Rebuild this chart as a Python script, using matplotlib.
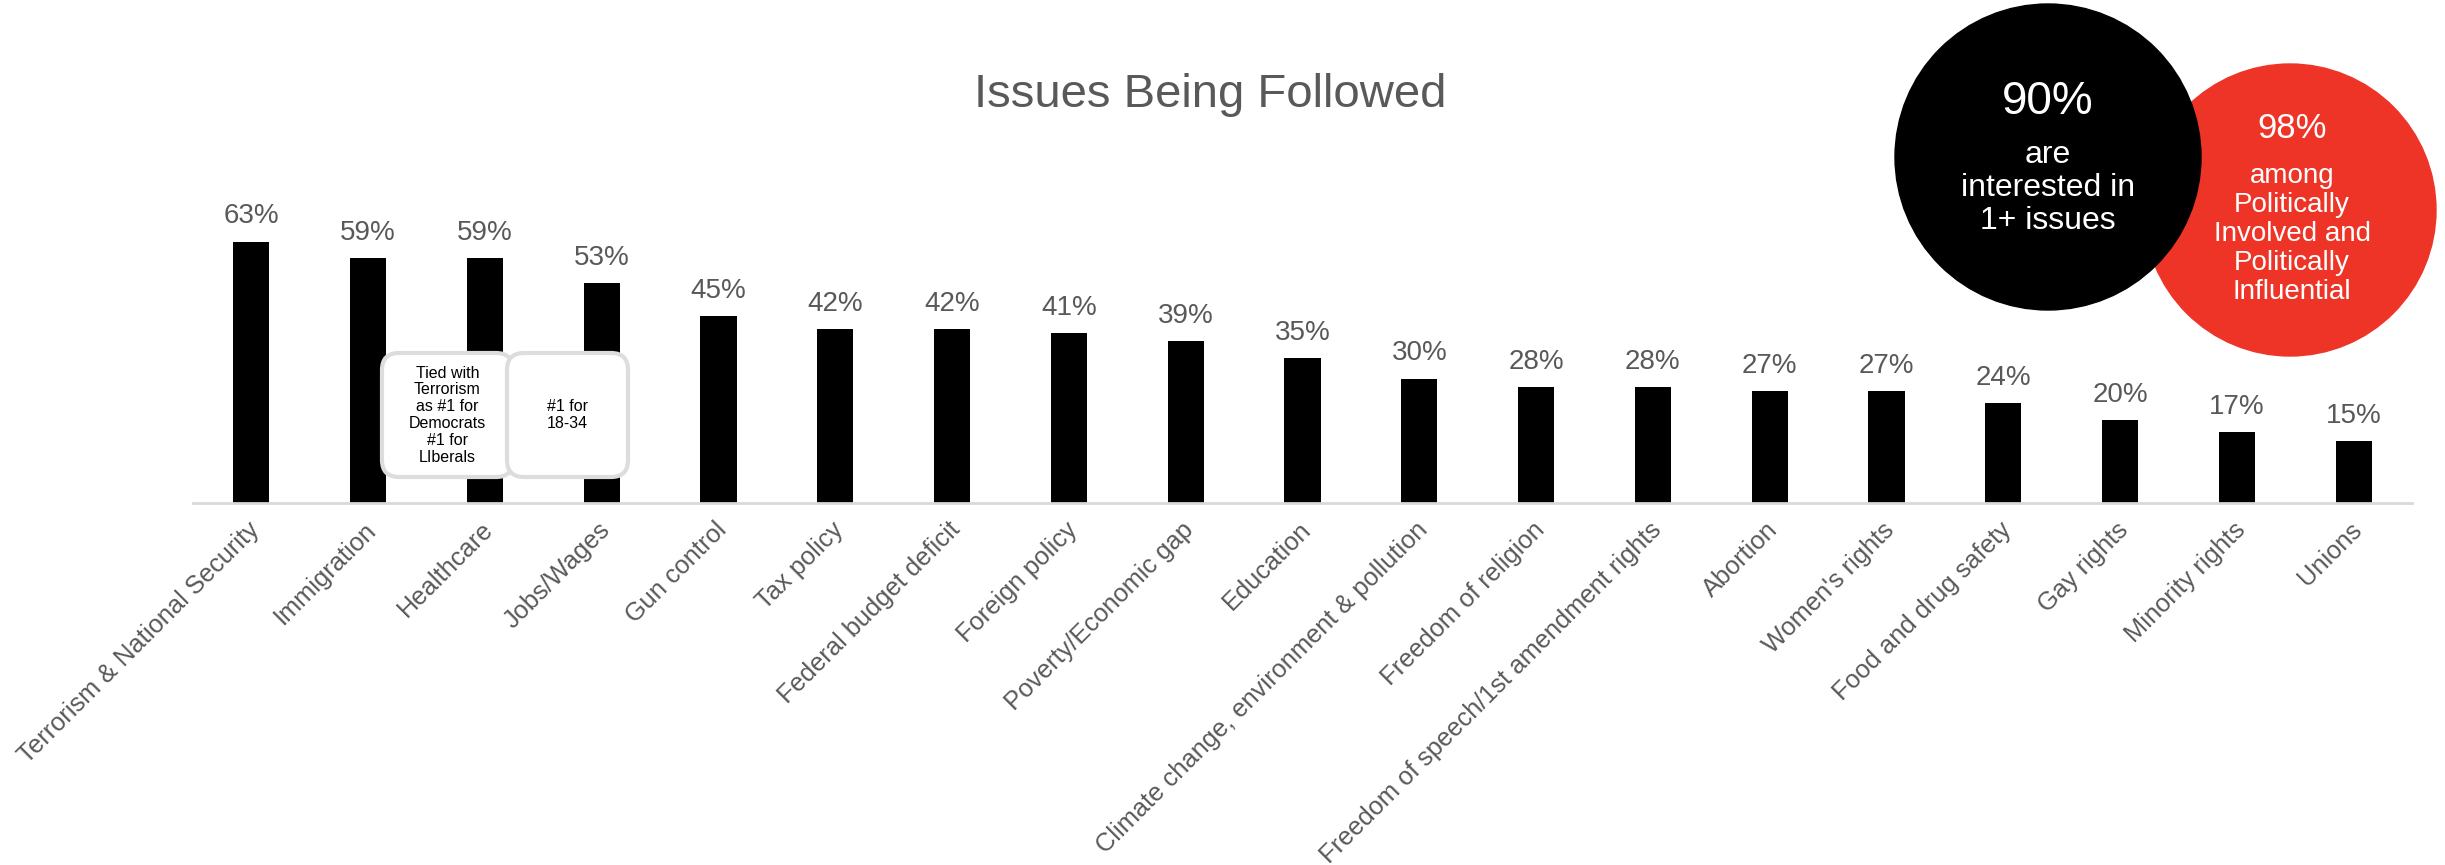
import matplotlib
matplotlib.use("Agg")
import matplotlib.pyplot as plt
import matplotlib.transforms as mtransforms
from matplotlib.patches import Circle, FancyBboxPatch

plt.rcParams['font.family'] = ['Liberation Sans', 'DejaVu Sans']

issues = ['Terrorism & National Security', 'Immigration', 'Healthcare', 'Jobs/Wages',
          'Gun control', 'Tax policy', 'Federal budget deficit', 'Foreign policy',
          'Poverty/Economic gap', 'Education', 'Climate change, environment & pollution',
          'Freedom of religion', 'Freedom of speech/1st amendment rights', 'Abortion',
          "Women's rights", 'Food and drug safety', 'Gay rights', 'Minority rights', 'Unions']
pct_following = [63, 59, 59, 53, 45, 42, 42, 41, 39, 35, 30, 28, 28, 27, 27, 24, 20, 17, 15]

callout_notes = ['Tied with\nTerrorism\nas #1 for\nDemocrats\n#1 for\nLIberals',
                 '#1 for\n18-34']
overall_pct = 90
involved_pct = 98

GREY = '#595959'
RED = '#ee3427'

W, H = 2445, 865
fig = plt.figure(figsize=(W / 100, H / 100), dpi=100)

# bar chart area
ax = fig.add_axes([193 / W, (H - 503) / H, (2412 - 193) / W, 415 / H])
x = range(len(issues))
bars = ax.bar(x, pct_following, width=0.31, color='black', zorder=2)
ax.set_xlim(-0.5, len(issues) - 0.5)
ax.set_ylim(0, 100)

for bar, v in zip(bars, pct_following):
    ax.annotate(f'{v}%', (bar.get_x() + bar.get_width() / 2, v),
                xytext=(0, 13), textcoords='offset points',
                ha='center', va='baseline', fontsize=20, color=GREY)

ax.set_xticks(list(x))
ax.set_xticklabels(issues, rotation=45, ha='right', rotation_mode='anchor',
                   fontsize=18.3, color=GREY)
ax.tick_params(axis='x', length=0, pad=10.5)
ax.set_yticks([])
shift = mtransforms.ScaledTranslation(-4 / 100, 0, fig.dpi_scale_trans)
for lbl in ax.get_xticklabels():
    lbl.set_transform(lbl.get_transform() + shift)

for side in ['top', 'left', 'right']:
    ax.spines[side].set_visible(False)
ax.spines['bottom'].set_color('#d9d9d9')
ax.spines['bottom'].set_linewidth(2)

fig.text(1210 / W, 1 - 95 / H, 'Issues Being Followed', ha='center', va='center',
         fontsize=34, color=GREY)

# overlay in pixel units for the callouts
ov = fig.add_axes([0, 0, 1, 1], zorder=5)
ov.set_xlim(0, W)
ov.set_ylim(H, 0)
ov.axis('off')
ov.patch.set_alpha(0)

for (x0, x1), note in zip([(382, 513), (507, 628)], callout_notes):
    ov.add_patch(FancyBboxPatch((x0, 353), x1 - x0, 124,
                                boxstyle='round,pad=0,rounding_size=17',
                                facecolor='white', edgecolor='#dddddd', linewidth=3))
    ov.text((x0 + x1) / 2, 415, note, ha='center', va='center',
            fontsize=11.5, color='black', linespacing=1.15)

ov.add_patch(Circle((2290, 210), 146, color=RED))
ov.add_patch(Circle((2048, 157), 153, color='black'))

ov.text(2048, 102, f'{overall_pct}%', ha='center', va='center', fontsize=33, color='white')
ov.text(2048, 188, 'are\ninterested in\n1+ issues', ha='center', va='center',
        fontsize=23, color='white', linespacing=1.15)

ov.text(2292, 128, f'{involved_pct}%', ha='center', va='center', fontsize=25, color='white')
ov.text(2292, 234, 'among\nPolitically\nInvolved and\nPolitically\nInfluential',
        ha='center', va='center', fontsize=20, color='white', linespacing=1.15)

fig.savefig('out.png', dpi=100, facecolor='white')
